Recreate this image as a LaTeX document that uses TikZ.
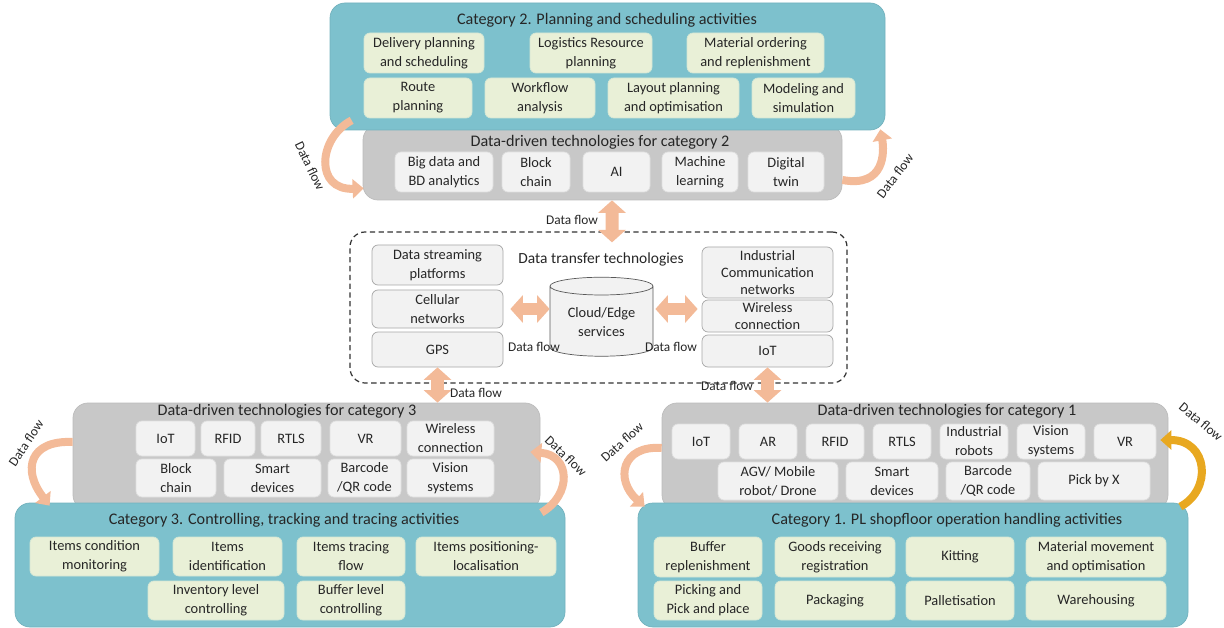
\documentclass[tikz,border=0pt]{standalone}
\usepackage{fontspec}
\setmainfont{Carlito}
\usepackage{tikz}
\usetikzlibrary{arrows.meta,shapes.geometric}
\definecolor{catteal}{RGB}{125,193,205}
\definecolor{actcream}{RGB}{233,240,215}
\definecolor{techgray}{RGB}{200,200,200}
\definecolor{itemgray}{RGB}{242,242,242}
\definecolor{flowpeach}{RGB}{243,186,152}
\definecolor{flowgold}{RGB}{232,168,32}
\definecolor{txt}{RGB}{38,38,38}

\begin{document}
\begin{tikzpicture}[x=0.02cm, y=-0.02cm, text=txt,
	font=\fontsize{8.2}{10.8}\selectfont,
	wh/.style 2 args={minimum width=#1*0.02cm, minimum height=#2*0.02cm},
	catbox/.style={fill=catteal, draw=catteal!92!black, rounded corners=0.3cm, inner sep=0},
	techbox/.style={fill=techgray, draw=techgray!94!black, rounded corners=0.3cm, inner sep=0},
	actbox/.style={fill=actcream, draw=actcream!80!catteal, rounded corners=0.12cm, align=center, inner sep=1pt},
	techitem/.style={fill=itemgray, draw=itemgray!92!black, rounded corners=0.12cm, align=center, inner sep=1pt},
	xferitem/.style={fill=itemgray, draw=gray!70, rounded corners=0.12cm, align=center, inner sep=1pt},
	boxtitle/.style={font=\fontsize{9.2}{11}\selectfont, inner sep=1pt},
	flowlbl/.style={font=\fontsize{7.6}{9}\selectfont, inner sep=0},
	fatarrow/.style={draw=flowpeach, line width=0.26cm, {Triangle[width=0.54cm,length=0.25cm]}-{Triangle[width=0.54cm,length=0.25cm]}},
	curvearrow/.style={draw=flowpeach, line width=0.16cm, -{Triangle[width=0.38cm,length=0.22cm]}}]
	%\draw[help lines] (0,0) grid[step=50] (1224,628);
	\useasboundingbox (0,0) rectangle (1224,628);

	% category 2
	\node[techbox, wh={479}{75}] (dd2) at (602.5,162.5) {};
	\node[catbox, wh={555}{127}] (cat2) at (607.5,66.5) {};
	\node[boxtitle] (cat2t) at (607,20) {Category 2. Planning and scheduling activities};
	\node[actbox, wh={120}{40}] (p1) at (424,53) {Delivery planning\\and scheduling};
	\node[actbox, wh={122}{40}] (p2) at (591,53) {Logistics Resource\\planning};
	\node[actbox, wh={137}{40}] (p3) at (755.5,53) {Material ordering\\and replenishment};
	\node[actbox, wh={108}{40}] (p4) at (418,98) {Route\\planning};
	\node[actbox, wh={110}{40}] (p5) at (540,98) {Workflow\\analysis};
	\node[actbox, wh={131}{40}] (p6) at (673.5,98) {Layout planning\\and optimisation};
	\node[actbox, wh={103}{40}] (p7) at (803.5,98) {Modeling and\\simulation};
	\node[boxtitle] (dd2t) at (600,142) {Data-driven technologies for category 2};
	\node[techitem, wh={98}{40}] (t2a) at (444,172) {Big data and\\BD analytics};
	\node[techitem, wh={68}{40}] (t2b) at (536,172) {Block\\chain};
	\node[techitem, wh={67}{40}] (t2c) at (616.5,172) {AI};
	\node[techitem, wh={76}{40}] (t2d) at (700,172) {Machine\\learning};
	\node[techitem, wh={76}{40}] (t2e) at (786,172) {Digital\\twin};

	% data transfer
	\node[draw=black!80, dash pattern=on 3pt off 2pt, line width=0.7pt, rounded corners=0.3cm, wh={497}{151}] (dtt) at (598.5,307.5) {};
	\node[font=\fontsize{8.8}{10.6}\selectfont] (dttt) at (601,259) {Data transfer technologies};
	\node[xferitem, wh={131}{40}] (strm) at (437.5,265) {Data streaming\\platforms};
	\node[xferitem, wh={131}{38}] (cell) at (437.5,309) {Cellular\\networks};
	\node[xferitem, wh={131}{35}] (gps) at (437.5,349.5) {GPS};
	\node[xferitem, wh={131}{51}, font=\fontsize{8.2}{9.8}\selectfont] (icn) at (767.5,272.5) {Industrial\\Communication\\networks};
	\node[xferitem, wh={131}{32}, font=\fontsize{8.2}{9.8}\selectfont] (wire) at (767.5,316) {Wireless\\connection};
	\node[xferitem, wh={131}{32}] (iot) at (767.5,351) {IoT};
	\node[cylinder, shape border rotate=90, aspect=0.25, draw=black!65, fill=itemgray, align=center, inner sep=1pt, wh={103}{79}] (cloud) at (601.5,322.5) {Cloud/Edge\\services};

	% category 3
	\node[techbox, wh={467}{107}] (dd3) at (306.5,456.5) {};
	\node[catbox, wh={550}{124}] (cat3) at (290,565) {};
	\node[boxtitle] (dd3t) at (287,411) {Data-driven technologies for category 3};
	\node[techitem, wh={59}{35}] (t3a) at (165.5,438.5) {IoT};
	\node[techitem, wh={54}{35}] (t3b) at (228,438.5) {RFID};
	\node[techitem, wh={60}{35}] (t3c) at (291,438.5) {RTLS};
	\node[techitem, wh={71}{35}] (t3d) at (365.5,438.5) {VR};
	\node[techitem, wh={87}{35}] (t3e) at (450.5,438.5) {Wireless\\connection};
	\node[techitem, wh={80}{38}] (t3f) at (176,478) {Block\\chain};
	\node[techitem, wh={97}{38}] (t3g) at (272.5,478) {Smart\\devices};
	\node[techitem, wh={73}{38}] (t3h) at (364.5,478) {Barcode\\/QR code};
	\node[techitem, wh={87}{38}] (t3i) at (450.5,478) {Vision\\systems};
	\node[boxtitle] (cat3t) at (284,520) {Category 3. Controlling, tracking and tracing activities};
	\node[actbox, wh={129}{39}] (c1) at (94.5,556.5) {Items condition\\monitoring};
	\node[actbox, wh={109}{39}] (c2) at (227.5,556.5) {Items\\identification};
	\node[actbox, wh={108}{39}] (c3) at (351,556.5) {Items tracing\\flow};
	\node[actbox, wh={140}{39}] (c4) at (486,556.5) {Items positioning-\\localisation};
	\node[actbox, wh={136}{39}] (c5) at (216,600.5) {Inventory level\\controlling};
	\node[actbox, wh={108}{39}] (c6) at (351,600.5) {Buffer level\\controlling};

	% category 1
	\node[techbox, wh={506}{107}] (dd1) at (915,456.5) {};
	\node[catbox, wh={550}{124}] (cat1) at (913,565) {};
	\node[boxtitle] (dd1t) at (947,411) {Data-driven technologies for category 1};
	\node[techitem, wh={58}{35}] (t1a) at (701,441.5) {IoT};
	\node[techitem, wh={58}{35}] (t1b) at (768,441.5) {AR};
	\node[techitem, wh={58}{35}] (t1c) at (835,441.5) {RFID};
	\node[techitem, wh={58}{35}] (t1d) at (902,441.5) {RTLS};
	\node[techitem, wh={68}{35}] (t1e) at (974,441.5) {Industrial\\robots};
	\node[techitem, wh={68}{35}] (t1f) at (1051,441.5) {Vision\\systems};
	\node[techitem, wh={62}{35}] (t1g) at (1125,441.5) {VR};
	\node[techitem, wh={120}{38}] (t1h) at (778,481) {AGV/ Mobile\\robot/ Drone};
	\node[techitem, wh={92}{38}] (t1i) at (892,481) {Smart\\devices};
	\node[techitem, wh={84}{38}] (t1j) at (988,481) {Barcode\\/QR code};
	\node[techitem, wh={112}{38}] (t1k) at (1094,481) {Pick by X};
	\node[boxtitle] (cat1t) at (947,520) {Category 1. PL shopfloor operation handling activities};
	\node[actbox, wh={108}{40}] (o1) at (708,557) {Buffer\\replenishment};
	\node[actbox, wh={120}{40}] (o2) at (835,557) {Goods receiving\\registration};
	\node[actbox, wh={108}{40}] (o3) at (960,557) {Kitting};
	\node[actbox, wh={140}{40}] (o4) at (1096,557) {Material movement\\and optimisation};
	\node[actbox, wh={108}{39}] (o5) at (708,600.5) {Picking and\\Pick and place};
	\node[actbox, wh={120}{39}] (o6) at (835,600.5) {Packaging};
	\node[actbox, wh={108}{39}] (o7) at (960,600.5) {Palletisation};
	\node[actbox, wh={140}{39}] (o8) at (1096,600.5) {Warehousing};

	% data flows
	\draw[fatarrow] ([xshift=0.19cm]dd2.south) -- ([xshift=0.27cm,yshift=-0.22cm]dtt.north);
	\node[flowlbl] (fl1) at (572,220) {Data flow};
	\draw[fatarrow, shorten <=0.14cm] (cell.east) -- (cloud.west |- cell.east);
	\draw[fatarrow, shorten <=0.04cm, shorten >=0.08cm] (cloud.east |- cell.east) -- (wire.west |- cell.east);
	\node[flowlbl] (fl2) at (534,347) {Data flow};
	\node[flowlbl] (fl3) at (671,347) {Data flow};
	\draw[fatarrow] (gps.south) -- (gps.south |- dd3.north);
	\node[flowlbl] (fl4) at (476,393) {Data flow};
	\draw[fatarrow] (iot.south) -- (iot.south |- dd1.north);
	\node[flowlbl] (fl5) at (727,386) {Data flow};

	\draw[curvearrow] ([xshift=0.44cm,yshift=0.2cm]cat2.south west) .. controls +(-34,18) and +(-49,2) .. ([xshift=0.02cm,yshift=0.24cm]dd2.south west);
	\node[flowlbl, rotate=-64] (fl6) at (310,166) {Data flow};
	\draw[curvearrow] ([yshift=-0.35cm]dd2.east) .. controls +(43,8) and +(4,22) .. ([xshift=-0.1cm,yshift=0.02cm]cat2.south east);
	\node[flowlbl, rotate=53] (fl7) at (895,176) {Data flow};
	\draw[curvearrow] ([yshift=0.29cm]dd3.west) .. controls +(-43,-2) and +(-28,-36) .. ([xshift=0.7cm,yshift=-0.06cm]cat3.north west);
	\node[flowlbl, rotate=56] (fl8) at (26,443) {Data flow};
	\draw[curvearrow] ([xshift=-0.48cm,yshift=-0.2cm]cat3.north east) .. controls +(31,-18) and +(40,3) .. ([xshift=-0.2cm,yshift=0.09cm]dd3.east);
	\node[flowlbl, rotate=-44] (fl9) at (566,456) {Data flow};
	\draw[curvearrow] ([yshift=0.17cm]dd1.west) .. controls +(-40,-3) and +(-30,-27) .. ([xshift=0.14cm,yshift=-0.08cm]cat1.north west);
	\node[flowlbl, rotate=42] (fl10) at (622,442) {Data flow};
	\draw[curvearrow, draw=flowgold] ([xshift=-0.16cm,yshift=-0.08cm]cat1.north east) .. controls +(32,-17) and +(48,0) .. ([xshift=-0.16cm,yshift=0.33cm]dd1.east);
	\node[flowlbl, rotate=-40] (fl11) at (1201,422) {Data flow};
\end{tikzpicture}
\end{document}
